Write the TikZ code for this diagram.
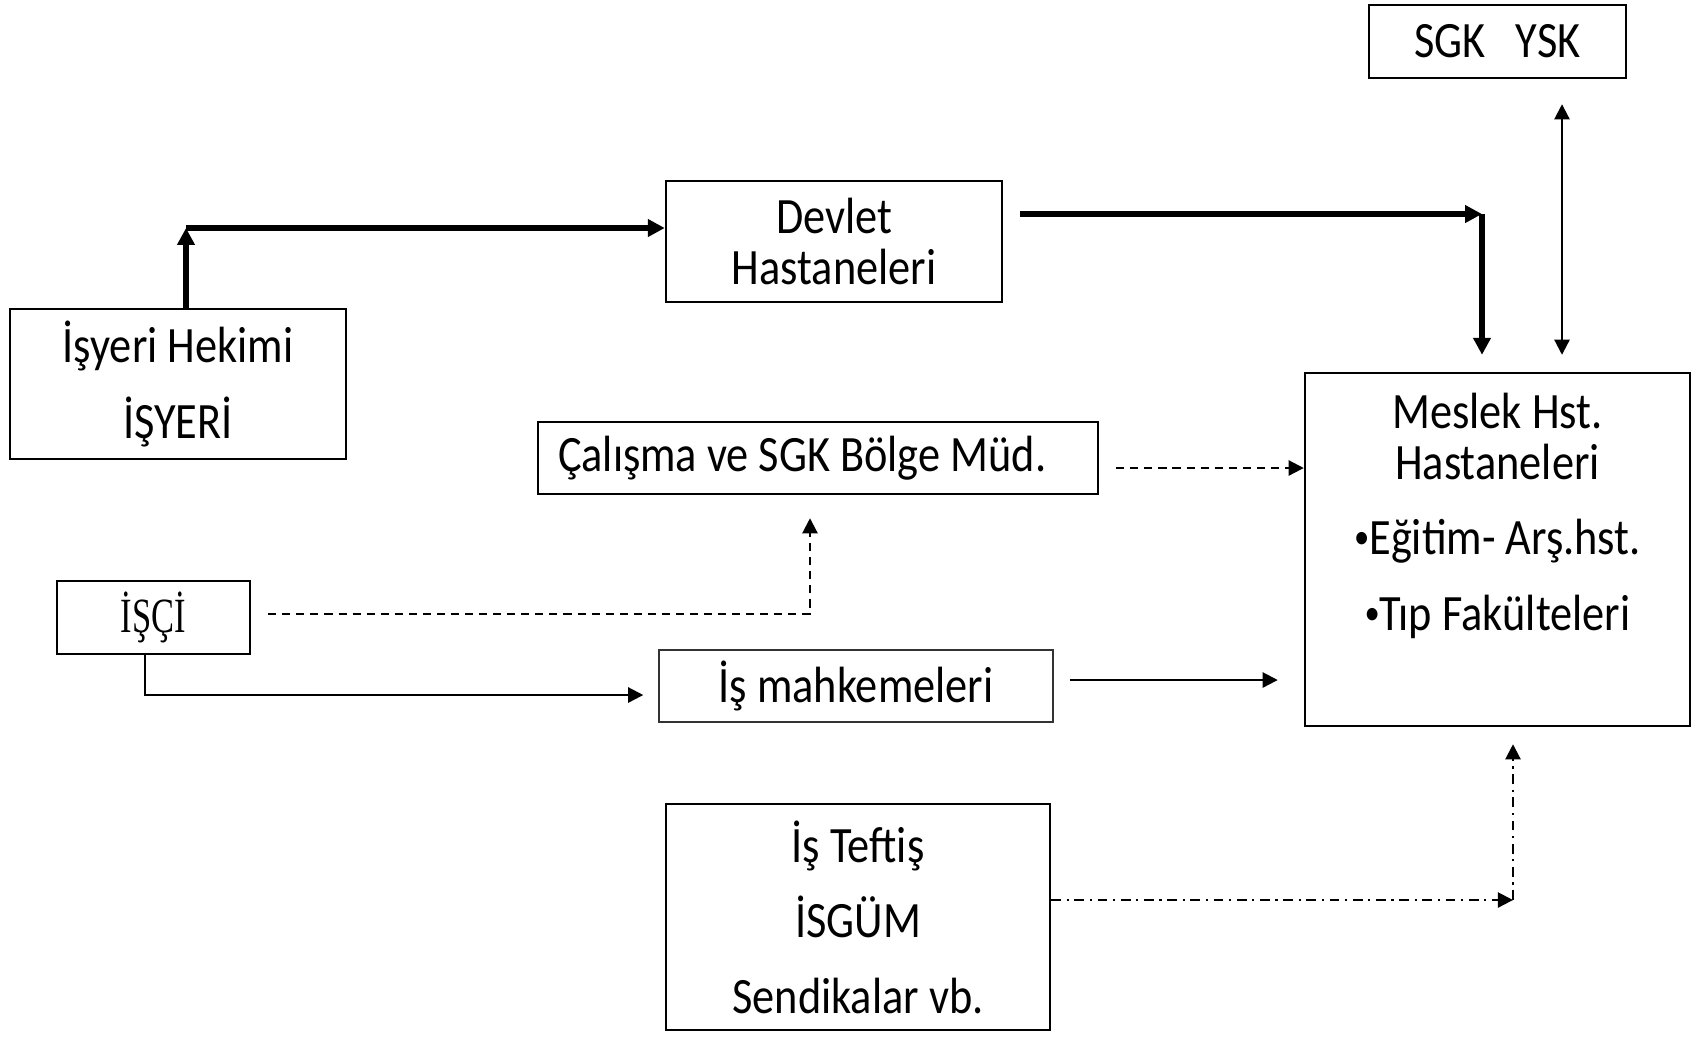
\documentclass[tikz,border=0pt]{standalone}
\usepackage{fontspec}
\setmainfont{Carlito}[FakeStretch=0.87]
\newfontfamily\serifcaps{Liberation Serif}[FakeStretch=0.7]
\newcommand{\dotmark}{\raisebox{0.12em}{\fontsize{10}{10}\selectfont •}}
\usetikzlibrary{arrows.meta,positioning,calc}

\begin{document}
\begin{tikzpicture}[every node/.style={font=\fontsize{14.5}{14.5}\selectfont,align=center},
  box/.style={draw,line width=0.7pt,inner sep=0pt},
  heavy/.style={line width=1.7pt,-{Triangle[length=4.8pt,width=4.8pt]}},
  plain/.style={line width=0.6pt,-{Triangle[length=4.3pt,width=4.3pt]}},
  dashy/.style={plain,dash pattern=on 2.3pt off 1.7pt},
  dashdot/.style={plain,dash pattern=on 2.8pt off 1.6pt on 0.6pt off 1.6pt}]
\useasboundingbox (0,0) rectangle (17,-10.38);
\node[box,minimum width=2.57cm,minimum height=0.73cm] (sgk) at (14.975,-0.415) {SGK~~~YSK};
\node[box,minimum width=3.36cm,minimum height=1.21cm] (devlet) at (8.34,-2.415) {Devlet\\Hastaneleri};
\node[box,minimum width=3.36cm,minimum height=1.50cm] (isyeri) at (1.78,-3.84) {İşyeri Hekimi\\[7pt]İŞYERİ};
\node[box,minimum width=3.85cm,minimum height=3.53cm] (meslek) at (14.975,-5.495) {Meslek Hst.\\Hastaneleri\\[7pt]\dotmark Eğitim- Arş.hst.\\[7pt]\dotmark Tıp Fakülteleri\\[7pt]\mbox{}};
\node[box,text width=5.2cm,inner xsep=0.2cm,align=flush left,minimum height=0.72cm] (calisma) at (8.18,-4.58) {Çalışma ve SGK Bölge Müd.};
\node[box,minimum width=1.93cm,minimum height=0.73cm,font=\fontsize{14}{14}\serifcaps] (isci) at (1.535,-6.175) {İŞÇİ};
\node[draw=black!80,line width=0.4pt,inner sep=0pt,minimum width=3.94cm,minimum height=0.72cm] (mahkeme) at (8.56,-6.86) {İş mahkemeleri};
\node[box,minimum width=3.84cm,minimum height=2.26cm] (teftis) at (8.58,-9.17) {İş Teftiş\\[7pt]İSGÜM\\[7pt]Sendikalar vb.};
% corners of the bent connectors
\coordinate (up) at (1.86,-2.28);
\coordinate (turn) at (14.82,-2.14);
\coordinate (bend) at (15.13,-9.00);
\draw[heavy] (isyeri.north -| up) -- (up);
\draw[heavy] (up) -- (up -| devlet.west);
\draw[heavy] ([xshift=0.17cm]devlet.east |- turn) -- (turn);
\draw[heavy] (turn) -- ([yshift=0.17cm]meslek.north -| turn);
\draw[plain,{Triangle[length=4.3pt,width=4.3pt]}-{Triangle[length=4.3pt,width=4.3pt]}] ([xshift=0.645cm,yshift=-0.25cm]sgk.south) -- ([xshift=0.645cm,yshift=0.17cm]meslek.north);
\draw[dashy] ([xshift=0.17cm,yshift=-0.1cm]calisma.east) -- ([yshift=-0.1cm]calisma.east -| meslek.west);
\draw[dashy] ([xshift=0.17cm,yshift=0.035cm]isci.east) -| ([xshift=-0.08cm,yshift=-0.23cm]calisma.south);
\draw[plain] ([xshift=-0.085cm]isci.south) |- ([xshift=-0.15cm,yshift=-0.09cm]mahkeme.west);
\draw[plain] ([xshift=0.16cm,yshift=0.06cm]mahkeme.east) -- ([xshift=-0.26cm,yshift=0.06cm]mahkeme.east -| meslek.west);
\draw[dashdot] ([yshift=0.17cm]teftis.east) -- (bend);
\draw[dashdot] (bend) -- ([yshift=-0.17cm]meslek.south -| bend);
\end{tikzpicture}
\end{document}
